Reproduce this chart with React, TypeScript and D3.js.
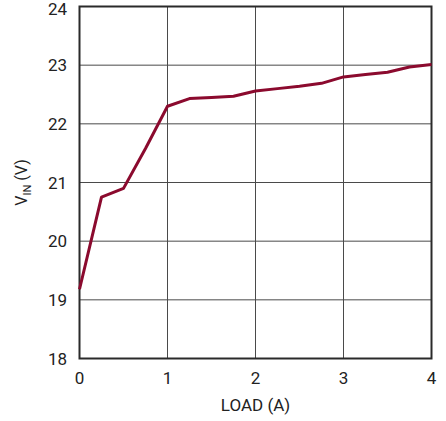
import React from "react";
import * as d3 from "d3";

const loadA = [0, 0.25, 0.5, 0.75, 1, 1.25, 1.5, 1.75, 2, 2.25, 2.5, 2.75, 3, 3.25, 3.5, 3.75, 4];
const vinV = [19.18, 20.75, 20.9, 21.58, 22.3, 22.43, 22.45, 22.47, 22.56, 22.6, 22.64, 22.69, 22.8, 22.84, 22.88, 22.97, 23.01];
const xTicks = [0, 1, 2, 3, 4];
const yTicks = [18, 19, 20, 21, 22, 23, 24];

export default function App() {
  const W = 446, H = 421;
  const left = 79.5, right = 431.5, top = 6.5, bottom = 358.5;
  const x = d3.scaleLinear().domain([0, 4]).range([left, right]);
  const y = d3.scaleLinear().domain([18, 24]).range([bottom, top]);
  const line = d3.line<number>().x((_, i) => x(loadA[i])).y((d) => y(d));
  const font = "'Liberation Sans Narrow', 'Arial Narrow', Roboto, sans-serif";
  return (
    <svg width={W} height={H} style={{ position: "absolute", left: 0, top: 0, background: "#fff" }} fontFamily={font}>
      {xTicks.slice(1, -1).map((t) => (
        <line key={"gx" + t} x1={x(t)} x2={x(t)} y1={top} y2={bottom} stroke="#4a4a4a" strokeWidth={1} />
      ))}
      {yTicks.slice(1, -1).map((t) => (
        <line key={"gy" + t} x1={left} x2={right} y1={y(t)} y2={y(t)} stroke="#4a4a4a" strokeWidth={1} />
      ))}
      <rect x={left} y={top} width={right - left} height={bottom - top} fill="none" stroke="#2a2a2a" strokeWidth={2} />
      <path d={line(vinV) || ""} fill="none" stroke="#8b0a2e" strokeWidth={3} strokeLinejoin="round" />
      {yTicks.map((t) => (
        <text key={"ty" + t} x={67} y={Math.max(y(t), 9)} dy="0.36em" textAnchor="end" fontSize={17} fill="#222">{t}</text>
      ))}
      {xTicks.map((t) => (
        <text key={"tx" + t} x={x(t)} y={377.5} dy="0.36em" textAnchor="middle" fontSize={17} fill="#222">{t}</text>
      ))}
      <text x={255.5} y={404.5} dy="0.36em" textAnchor="middle" fontSize={17} fill="#222">LOAD (A)</text>
      <text transform={`translate(21,182.5) rotate(-90)`} textAnchor="middle" dy="0.35em" fontSize={16} fill="#222">
        V<tspan fontSize={11} dy="4">IN</tspan><tspan dy="-4"> (V)</tspan>
      </text>
    </svg>
  );
}
